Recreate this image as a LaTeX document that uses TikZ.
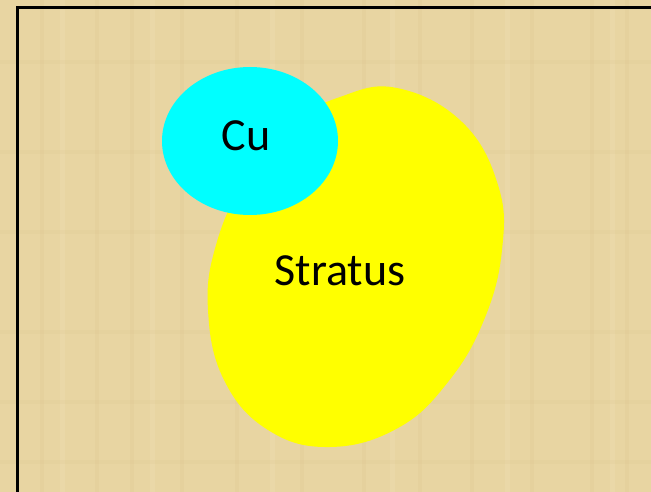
\documentclass[tikz,border=0pt]{standalone}
\usepackage{fontspec}
\setmainfont{Carlito}
\definecolor{parch}{HTML}{E8D5A2}
\definecolor{parchdark}{HTML}{D9C289}
\definecolor{parchlight}{HTML}{F0E2B8}
\definecolor{cuc}{HTML}{00FFFF}
\definecolor{stc}{HTML}{FFFF00}
\tikzset{lbl/.style={anchor=base,inner sep=0pt,font=\fontsize{46bp}{54bp}\selectfont,text=black}}
\begin{document}
\begin{tikzpicture}[x=1bp,y=-1bp]
\useasboundingbox (0,0) rectangle (651,492);
\fill[parch] (0,0) rectangle (651,492);
% faint texture
\foreach \x in {40,95,130,180,235,300,362,418,470,530,590,625}
  \fill[parchdark,opacity=0.2] (\x,0) rectangle (\x+4,492);
\foreach \x in {60,150,270,390,505,610}
  \fill[parchlight,opacity=0.3] (\x,0) rectangle (\x+5,492);
\foreach \y in {60,150,230,330,400,460}
  \fill[parchdark,opacity=0.15] (0,\y) rectangle (651,\y+4);
% border
\draw[line width=3.5bp,line cap=rect] (17.5,500) -- (17.5,7.5) -- (660,7.5);
% Stratus blob
\fill[stc] plot[smooth cycle,tension=0.7] coordinates {
  (397,88) (462,122) (498,185) (502,250) (484,320) (448,382) (398,428)
  (330,447) (268,430) (224,380) (208,310) (216,245) (245,180) (290,125) (340,97)};
\node[lbl] (stratus) at (340,285) {Stratus};
% Cu ellipse
\fill[cuc] (250,141) ellipse [x radius=88, y radius=74];
\node[lbl] (cu) at (246,151) {Cu};
\end{tikzpicture}
\end{document}
